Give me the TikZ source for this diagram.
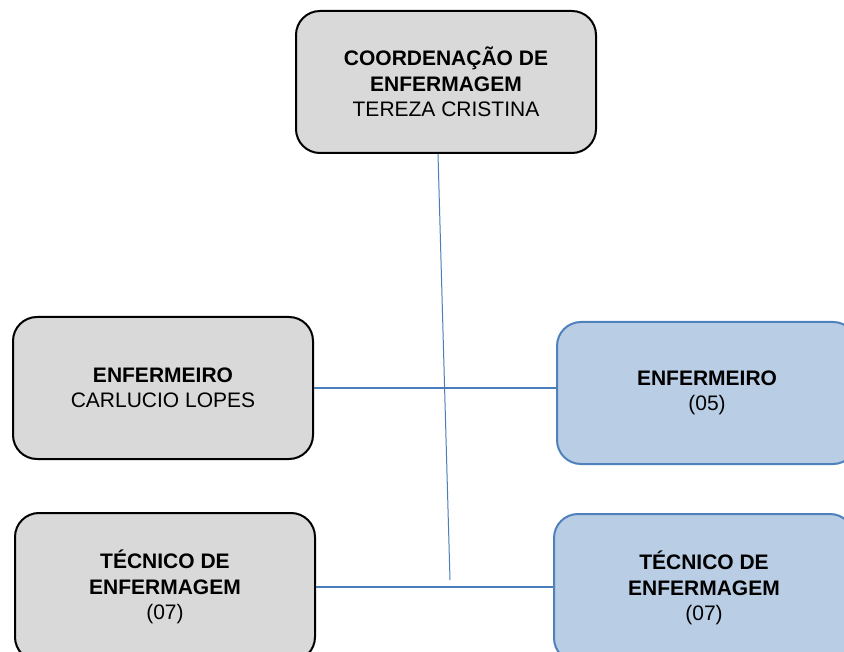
\documentclass[tikz,border=0pt]{standalone}
\usepackage{fontspec}
\setmainfont{Liberation Sans}
\definecolor{boxgray}{HTML}{D9D9D9}
\definecolor{boxblue}{HTML}{B9CDE5}
\definecolor{blueedge}{HTML}{4F81BD}
\definecolor{linkblue}{HTML}{4A7EBB}
\begin{document}
\begin{tikzpicture}[x=1pt,y=-1pt,
  box/.style={rectangle, rounded corners=24pt, minimum width=300pt, inner sep=0pt,
    align=center, font=\fontsize{21}{25.5}\selectfont, line width=2pt},
  graybox/.style={box, draw=black, fill=boxgray},
  bluebox/.style={box, draw=blueedge, fill=boxblue},
  link/.style={draw=linkblue, line width=1.5pt}]
\useasboundingbox (0,0) rectangle (844,652);
\clip (0,0) rectangle (844,652);
\fill[white] (0,0) rectangle (844,652);
\node[graybox, minimum height=142pt] (top) at (446,82) {\textbf{COORDENAÇÃO DE}\\\textbf{ENFERMAGEM}\\TEREZA CRISTINA};
\node[graybox, minimum height=142pt] (lm) at (163,388) {\textbf{ENFERMEIRO}\\CARLUCIO LOPES};
\node[bluebox, minimum height=142pt] (rm) at (707,393) {\textbf{ENFERMEIRO}\\(05)};
\node[graybox, minimum height=148pt] (lb) at (165,587) {\textbf{TÉCNICO DE}\\\textbf{ENFERMAGEM}\\(07)};
\node[bluebox, minimum height=148pt] (rb) at (704,588) {\textbf{TÉCNICO DE}\\\textbf{ENFERMAGEM}\\(07)};
\coordinate (vend) at (450,580);
\draw[link, line width=1pt] (top.south) ++(-8,0) -- (vend);
\draw[link] (lm.east) -- (lm.east -| rm.west);
\draw[link] (lb.east) -- (lb.east -| rb.west);
\end{tikzpicture}
\end{document}
